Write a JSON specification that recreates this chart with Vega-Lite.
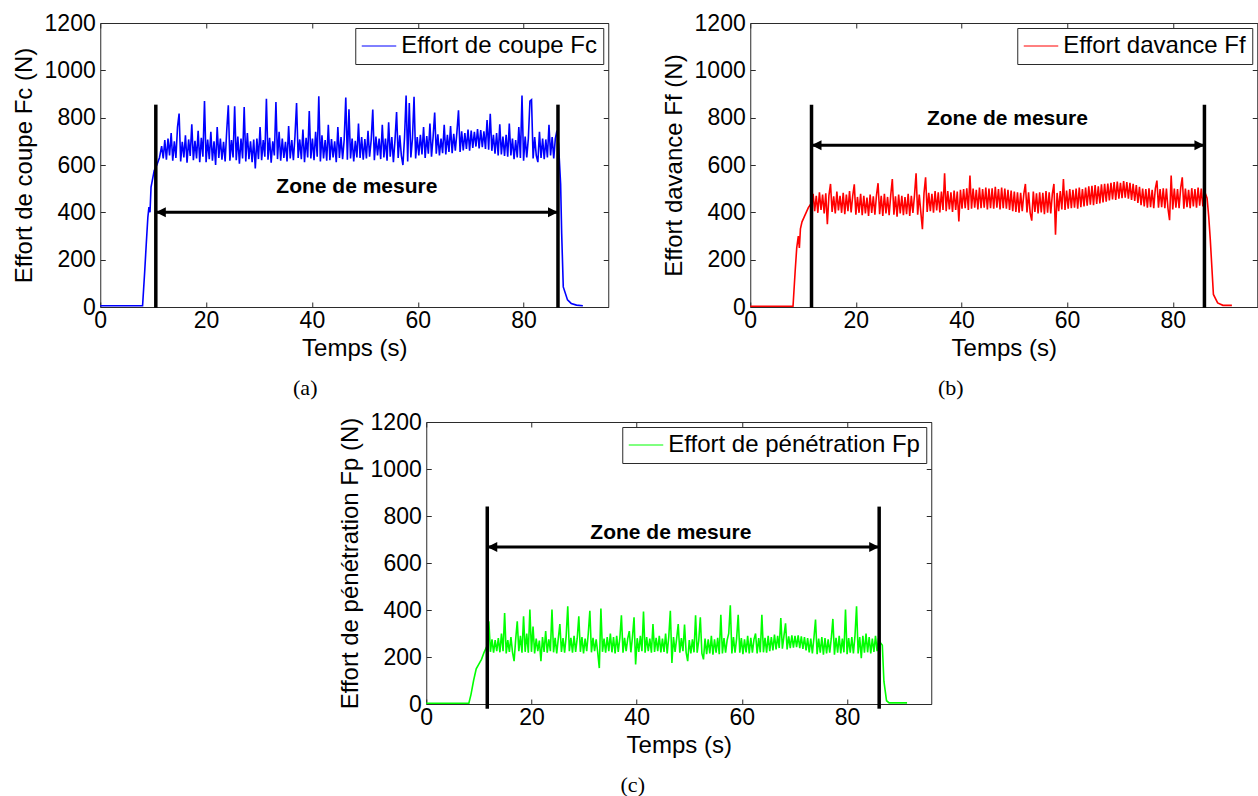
{
  "$schema": "https://vega.github.io/schema/vega-lite/v6.json",
  "background": "white",
  "padding": {"left": 12, "top": 12, "right": 0, "bottom": 0},
  "datasets": {
    "fc": [
      {"t":0,"v":5},{"t":8.0,"v":5},{"t":8.4,"v":150},{"t":8.7,"v":268},{"t":9.0,"v":380},{"t":9.2,"v":422},{"t":9.4,"v":400},{"t":9.6,"v":507},{"t":10.2,"v":577},{"t":10.7,"v":600},{"t":11.2,"v":632},
      {"t":11.6,"v":680},{"t":11.9,"v":628},{"t":12.2,"v":705},{"t":12.5,"v":622},{"t":12.8,"v":712},{"t":13.1,"v":640},{"t":13.4,"v":735},{"t":13.7,"v":618},{"t":14.0,"v":700},{"t":14.3,"v":630},{"t":14.6,"v":760},{"t":14.9,"v":817},{"t":15.2,"v":615},{"t":15.5,"v":698},{"t":15.8,"v":632},{"t":16.1,"v":725},{"t":16.4,"v":610},{"t":16.7,"v":708},{"t":17.0,"v":638},{"t":17.3,"v":772},{"t":17.6,"v":620},{"t":17.9,"v":702},{"t":18.2,"v":628},{"t":18.5,"v":745},{"t":18.8,"v":612},{"t":19.1,"v":715},{"t":19.4,"v":635},{"t":19.7,"v":870},{"t":20.0,"v":612},
      {"t":20.3,"v":708},{"t":20.6,"v":625},{"t":20.9,"v":740},{"t":21.2,"v":618},{"t":21.5,"v":700},{"t":21.8,"v":600},{"t":22.1,"v":760},{"t":22.4,"v":630},{"t":22.7,"v":712},{"t":23.0,"v":622},{"t":23.3,"v":698},{"t":23.6,"v":615},{"t":23.9,"v":745},{"t":24.2,"v":852},{"t":24.5,"v":618},{"t":24.8,"v":705},{"t":25.1,"v":632},{"t":25.4,"v":848},{"t":25.7,"v":620},{"t":26.0,"v":720},{"t":26.3,"v":605},{"t":26.6,"v":712},{"t":26.9,"v":628},{"t":27.2,"v":845},{"t":27.5,"v":615},{"t":27.8,"v":735},{"t":28.1,"v":625},{"t":28.4,"v":700},{"t":28.7,"v":612},{"t":29.0,"v":708},{"t":29.3,"v":585},{"t":29.6,"v":712},{"t":29.9,"v":625},
      {"t":30.2,"v":760},{"t":30.5,"v":620},{"t":30.8,"v":705},{"t":31.1,"v":635},{"t":31.4,"v":880},{"t":31.7,"v":622},{"t":32.0,"v":715},{"t":32.3,"v":610},{"t":32.6,"v":700},{"t":32.9,"v":640},{"t":33.2,"v":866},{"t":33.5,"v":625},{"t":33.8,"v":740},{"t":34.1,"v":618},{"t":34.4,"v":712},{"t":34.7,"v":630},{"t":35.0,"v":698},{"t":35.3,"v":615},{"t":35.6,"v":765},{"t":35.9,"v":628},{"t":36.2,"v":705},{"t":36.5,"v":620},{"t":36.8,"v":722},{"t":37.1,"v":862},{"t":37.4,"v":630},{"t":37.7,"v":708},{"t":38.0,"v":625},{"t":38.3,"v":750},{"t":38.6,"v":612},{"t":38.9,"v":715},{"t":39.2,"v":632},{"t":39.5,"v":828},{"t":39.8,"v":628},
      {"t":40.1,"v":712},{"t":40.4,"v":620},{"t":40.7,"v":740},{"t":41.0,"v":635},{"t":41.3,"v":890},{"t":41.6,"v":615},{"t":41.9,"v":725},{"t":42.2,"v":628},{"t":42.5,"v":705},{"t":42.8,"v":618},{"t":43.1,"v":770},{"t":43.4,"v":620},{"t":43.7,"v":710},{"t":44.0,"v":632},{"t":44.3,"v":700},{"t":44.6,"v":612},{"t":44.9,"v":760},{"t":45.2,"v":630},{"t":45.5,"v":718},{"t":45.8,"v":625},{"t":46.1,"v":708},{"t":46.4,"v":885},{"t":46.7,"v":622},{"t":47.0,"v":835},{"t":47.3,"v":628},{"t":47.6,"v":712},{"t":47.9,"v":615},{"t":48.2,"v":702},{"t":48.5,"v":632},{"t":48.8,"v":775},{"t":49.1,"v":630},{"t":49.4,"v":718},{"t":49.7,"v":622},
      {"t":50.0,"v":710},{"t":50.3,"v":628},{"t":50.6,"v":745},{"t":50.9,"v":635},{"t":51.2,"v":705},{"t":51.5,"v":834},{"t":51.8,"v":620},{"t":52.1,"v":720},{"t":52.4,"v":640},{"t":52.7,"v":712},{"t":53.0,"v":625},{"t":53.3,"v":770},{"t":53.6,"v":632},{"t":53.9,"v":712},{"t":54.2,"v":618},{"t":54.5,"v":780},{"t":54.8,"v":635},{"t":55.1,"v":718},{"t":55.4,"v":612},{"t":55.7,"v":705},{"t":56.0,"v":824},{"t":56.3,"v":630},{"t":56.6,"v":725},{"t":56.9,"v":640},{"t":57.2,"v":600},{"t":57.5,"v":715},{"t":57.8,"v":894},{"t":58.1,"v":615},{"t":58.4,"v":862},{"t":58.7,"v":632},{"t":59.0,"v":712},{"t":59.3,"v":888},{"t":59.6,"v":628},{"t":59.9,"v":718},
      {"t":60.2,"v":640},{"t":60.5,"v":728},{"t":60.8,"v":645},{"t":61.1,"v":760},{"t":61.4,"v":630},{"t":61.7,"v":722},{"t":62.0,"v":648},{"t":62.3,"v":775},{"t":62.6,"v":635},{"t":62.9,"v":718},{"t":63.2,"v":822},{"t":63.5,"v":648},{"t":63.8,"v":730},{"t":64.1,"v":640},{"t":64.4,"v":712},{"t":64.7,"v":650},{"t":65.0,"v":770},{"t":65.3,"v":645},{"t":65.6,"v":728},{"t":65.9,"v":655},
      {"t":66.2,"v":765},{"t":66.5,"v":650},{"t":66.8,"v":732},{"t":67.1,"v":660},{"t":67.4,"v":738},{"t":67.7,"v":831},{"t":68.0,"v":655},{"t":68.3,"v":742},{"t":68.6,"v":662},{"t":68.9,"v":735},{"t":69.2,"v":668},{"t":69.5,"v":750},{"t":69.8,"v":660},
      {"t":70.1,"v":745},{"t":70.4,"v":672},{"t":70.7,"v":740},{"t":71.0,"v":678},{"t":71.3,"v":752},{"t":71.6,"v":670},{"t":71.9,"v":748},{"t":72.2,"v":675},{"t":72.5,"v":742},{"t":72.8,"v":668},{"t":73.1,"v":790},{"t":73.4,"v":665},{"t":73.7,"v":816},{"t":74.0,"v":660},
      {"t":74.3,"v":728},{"t":74.6,"v":648},{"t":74.9,"v":735},{"t":75.2,"v":640},{"t":75.5,"v":772},{"t":75.8,"v":645},{"t":76.1,"v":720},{"t":76.4,"v":638},{"t":76.7,"v":728},
      {"t":77.0,"v":635},{"t":77.3,"v":775},{"t":77.6,"v":640},{"t":77.9,"v":712},{"t":78.2,"v":625},{"t":78.5,"v":705},{"t":78.8,"v":632},{"t":79.1,"v":760},{"t":79.4,"v":630},{"t":79.7,"v":894},{"t":80.0,"v":618},{"t":80.3,"v":720},{"t":80.6,"v":632},{"t":80.9,"v":712},{"t":81.2,"v":870},{"t":81.5,"v":876},{"t":81.8,"v":628},{"t":82.1,"v":718},{"t":82.4,"v":640},{"t":82.7,"v":612},{"t":83.0,"v":740},{"t":83.3,"v":630},{"t":83.6,"v":712},{"t":83.9,"v":625},{"t":84.2,"v":708},{"t":84.5,"v":632},{"t":84.8,"v":770},{"t":85.1,"v":640},{"t":85.4,"v":718},{"t":85.7,"v":628},{"t":86.0,"v":712},{"t":86.3,"v":745},
      {"t":86.6,"v":690},{"t":87.0,"v":520},{"t":87.2,"v":310},{"t":87.5,"v":85},{"t":88.3,"v":30},{"t":89.0,"v":15},{"t":90.0,"v":8},{"t":91.2,"v":5}
    ],
    "ff": [
      {"t":0,"v":3},{"t":8.1,"v":3},{"t":8.5,"v":150},{"t":8.8,"v":250},{"t":9.1,"v":300},{"t":9.3,"v":250},{"t":9.5,"v":330},{"t":9.8,"v":360},{"t":10.2,"v":380},{"t":10.6,"v":400},{"t":11.0,"v":420},
      {"t":11.6,"v":440},{"t":11.9,"v":478},{"t":12.2,"v":405},{"t":12.5,"v":470},{"t":12.8,"v":398},{"t":13.1,"v":485},{"t":13.4,"v":410},{"t":13.7,"v":475},{"t":14.0,"v":395},{"t":14.3,"v":480},{"t":14.6,"v":350},{"t":14.9,"v":472},{"t":15.2,"v":520},{"t":15.5,"v":402},{"t":15.8,"v":468},{"t":16.1,"v":395},{"t":16.4,"v":488},{"t":16.7,"v":408},{"t":17.0,"v":470},{"t":17.3,"v":398},{"t":17.6,"v":482},{"t":17.9,"v":392},{"t":18.2,"v":475},{"t":18.5,"v":405},{"t":18.8,"v":490},{"t":19.1,"v":400},{"t":19.4,"v":470},{"t":19.7,"v":518},{"t":20.0,"v":390},
      {"t":20.3,"v":465},{"t":20.6,"v":398},{"t":20.9,"v":478},{"t":21.2,"v":388},{"t":21.5,"v":470},{"t":21.8,"v":395},{"t":22.1,"v":462},{"t":22.4,"v":385},{"t":22.7,"v":475},{"t":23.0,"v":398},{"t":23.3,"v":468},{"t":23.6,"v":390},{"t":23.9,"v":472},{"t":24.2,"v":523},{"t":24.5,"v":392},{"t":24.8,"v":470},{"t":25.1,"v":385},{"t":25.4,"v":478},{"t":25.7,"v":395},{"t":26.0,"v":465},{"t":26.3,"v":388},{"t":26.6,"v":472},{"t":26.9,"v":541},{"t":27.2,"v":390},{"t":27.5,"v":468},{"t":27.8,"v":382},{"t":28.1,"v":475},{"t":28.4,"v":395},{"t":28.7,"v":470},{"t":29.0,"v":388},{"t":29.3,"v":465},{"t":29.6,"v":392},{"t":29.9,"v":478},
      {"t":30.2,"v":385},{"t":30.5,"v":470},{"t":30.8,"v":398},{"t":31.1,"v":472},{"t":31.4,"v":565},{"t":31.7,"v":390},{"t":32.0,"v":475},{"t":32.3,"v":400},{"t":32.6,"v":329},{"t":32.9,"v":480},{"t":33.2,"v":548},{"t":33.5,"v":402},{"t":33.8,"v":482},{"t":34.1,"v":405},{"t":34.4,"v":478},{"t":34.7,"v":398},{"t":35.0,"v":490},{"t":35.3,"v":408},{"t":35.6,"v":485},{"t":35.9,"v":400},{"t":36.2,"v":488},{"t":36.5,"v":410},{"t":36.8,"v":565},{"t":37.1,"v":405},{"t":37.4,"v":490},{"t":37.7,"v":412},{"t":38.0,"v":485},{"t":38.3,"v":402},{"t":38.6,"v":492},{"t":38.9,"v":410},{"t":39.2,"v":488},{"t":39.5,"v":361},{"t":39.8,"v":495},
      {"t":40.1,"v":415},{"t":40.4,"v":498},{"t":40.7,"v":418},{"t":41.0,"v":502},{"t":41.3,"v":410},{"t":41.6,"v":555},{"t":41.9,"v":415},{"t":42.2,"v":500},{"t":42.5,"v":420},{"t":42.8,"v":495},{"t":43.1,"v":412},{"t":43.4,"v":505},{"t":43.7,"v":418},{"t":44.0,"v":498},{"t":44.3,"v":420},{"t":44.6,"v":505},{"t":44.9,"v":412},{"t":45.2,"v":500},{"t":45.5,"v":418},{"t":45.8,"v":502},{"t":46.1,"v":415},{"t":46.4,"v":508},{"t":46.7,"v":420},{"t":47.0,"v":498},{"t":47.3,"v":412},{"t":47.6,"v":505},{"t":47.9,"v":418},{"t":48.2,"v":500},{"t":48.5,"v":415},{"t":48.8,"v":495},{"t":49.1,"v":410},{"t":49.4,"v":492},{"t":49.7,"v":405},
      {"t":50.0,"v":488},{"t":50.3,"v":402},{"t":50.6,"v":485},{"t":50.9,"v":398},{"t":51.2,"v":482},{"t":51.5,"v":405},{"t":51.8,"v":478},{"t":52.1,"v":520},{"t":52.4,"v":400},{"t":52.7,"v":485},{"t":53.0,"v":398},{"t":53.3,"v":365},{"t":53.6,"v":488},{"t":53.9,"v":402},{"t":54.2,"v":480},{"t":54.5,"v":395},{"t":54.8,"v":485},{"t":55.1,"v":400},{"t":55.4,"v":482},{"t":55.7,"v":392},{"t":56.0,"v":490},{"t":56.3,"v":398},{"t":56.6,"v":485},{"t":56.9,"v":395},{"t":57.2,"v":478},{"t":57.5,"v":520},{"t":57.8,"v":305},{"t":58.1,"v":482},{"t":58.4,"v":405},{"t":58.7,"v":490},{"t":59.0,"v":412},{"t":59.3,"v":541},{"t":59.6,"v":410},{"t":59.9,"v":492},
      {"t":60.2,"v":415},{"t":60.5,"v":498},{"t":60.8,"v":418},{"t":61.1,"v":495},{"t":61.4,"v":420},{"t":61.7,"v":500},{"t":62.0,"v":415},{"t":62.3,"v":505},{"t":62.6,"v":422},{"t":62.9,"v":498},{"t":63.2,"v":425},{"t":63.5,"v":505},{"t":63.8,"v":428},{"t":64.1,"v":510},{"t":64.4,"v":432},{"t":64.7,"v":512},{"t":65.0,"v":430},{"t":65.3,"v":515},{"t":65.6,"v":435},{"t":65.9,"v":510},{"t":66.2,"v":438},{"t":66.5,"v":518},{"t":66.8,"v":442},{"t":67.1,"v":520},{"t":67.4,"v":445},{"t":67.7,"v":522},{"t":68.0,"v":450},{"t":68.3,"v":525},{"t":68.6,"v":455},{"t":68.9,"v":528},{"t":69.2,"v":452},{"t":69.5,"v":530},{"t":69.8,"v":458},
      {"t":70.1,"v":525},{"t":70.4,"v":460},{"t":70.7,"v":532},{"t":71.0,"v":462},{"t":71.3,"v":528},{"t":71.6,"v":458},{"t":71.9,"v":525},{"t":72.2,"v":452},{"t":72.5,"v":520},{"t":72.8,"v":448},{"t":73.1,"v":515},{"t":73.4,"v":440},{"t":73.7,"v":508},{"t":74.0,"v":430},{"t":74.3,"v":500},{"t":74.6,"v":425},{"t":74.9,"v":498},{"t":75.2,"v":420},{"t":75.5,"v":502},{"t":75.8,"v":422},{"t":76.1,"v":495},{"t":76.4,"v":418},{"t":76.7,"v":500},{"t":77.0,"v":534},{"t":77.3,"v":420},{"t":77.6,"v":498},{"t":77.9,"v":422},{"t":78.2,"v":502},{"t":78.5,"v":418},{"t":78.8,"v":500},{"t":79.1,"v":415},{"t":79.4,"v":367},{"t":79.7,"v":555},
      {"t":80.0,"v":412},{"t":80.3,"v":500},{"t":80.6,"v":420},{"t":80.9,"v":498},{"t":81.2,"v":418},{"t":81.5,"v":502},{"t":81.8,"v":548},{"t":82.1,"v":415},{"t":82.4,"v":500},{"t":82.7,"v":422},{"t":83.0,"v":495},{"t":83.3,"v":418},{"t":83.6,"v":502},{"t":83.9,"v":425},{"t":84.2,"v":498},{"t":84.5,"v":420},{"t":84.8,"v":505},{"t":85.1,"v":428},{"t":85.4,"v":500},{"t":85.7,"v":425},{"t":86.0,"v":490},
      {"t":86.5,"v":460},{"t":86.8,"v":385},{"t":87.1,"v":288},{"t":87.7,"v":53},{"t":88.5,"v":17},{"t":89.5,"v":7},{"t":91.2,"v":7}
    ],
    "fp": [
      {"t":0,"v":3},{"t":8.1,"v":3},{"t":8.5,"v":40},{"t":9.0,"v":100},{"t":9.5,"v":150},{"t":10.0,"v":170},{"t":10.5,"v":190},{"t":11.0,"v":220},
      {"t":11.6,"v":250},{"t":11.9,"v":352},{"t":12.2,"v":222},{"t":12.5,"v":275},{"t":12.8,"v":218},{"t":13.1,"v":272},{"t":13.4,"v":225},{"t":13.7,"v":280},{"t":14.0,"v":220},{"t":14.3,"v":300},{"t":14.6,"v":225},{"t":14.9,"v":387},{"t":15.2,"v":215},{"t":15.5,"v":272},{"t":15.8,"v":222},{"t":16.1,"v":285},{"t":16.4,"v":220},{"t":16.7,"v":182},{"t":17.0,"v":275},{"t":17.3,"v":352},{"t":17.6,"v":225},{"t":17.9,"v":290},{"t":18.2,"v":218},{"t":18.5,"v":373},{"t":18.8,"v":222},{"t":19.1,"v":300},{"t":19.4,"v":218},{"t":19.7,"v":402},{"t":20.0,"v":222},
      {"t":20.3,"v":330},{"t":20.6,"v":215},{"t":20.9,"v":278},{"t":21.2,"v":225},{"t":21.5,"v":270},{"t":21.8,"v":182},{"t":22.1,"v":285},{"t":22.4,"v":222},{"t":22.7,"v":310},{"t":23.0,"v":218},{"t":23.3,"v":275},{"t":23.6,"v":225},{"t":23.9,"v":402},{"t":24.2,"v":220},{"t":24.5,"v":282},{"t":24.8,"v":215},{"t":25.1,"v":278},{"t":25.4,"v":340},{"t":25.7,"v":222},{"t":26.0,"v":280},{"t":26.3,"v":218},{"t":26.6,"v":290},{"t":26.9,"v":416},{"t":27.2,"v":225},{"t":27.5,"v":282},{"t":27.8,"v":218},{"t":28.1,"v":290},{"t":28.4,"v":222},{"t":28.7,"v":280},{"t":29.0,"v":373},{"t":29.3,"v":222},{"t":29.6,"v":285},{"t":29.9,"v":215},
      {"t":30.2,"v":278},{"t":30.5,"v":225},{"t":30.8,"v":300},{"t":31.1,"v":397},{"t":31.4,"v":220},{"t":31.7,"v":282},{"t":32.0,"v":225},{"t":32.3,"v":275},{"t":32.6,"v":218},{"t":32.9,"v":153},{"t":33.2,"v":406},{"t":33.5,"v":222},{"t":33.8,"v":278},{"t":34.1,"v":218},{"t":34.4,"v":285},{"t":34.7,"v":225},{"t":35.0,"v":300},{"t":35.3,"v":220},{"t":35.6,"v":285},{"t":35.9,"v":215},{"t":36.2,"v":290},{"t":36.5,"v":222},{"t":36.8,"v":280},{"t":37.1,"v":377},{"t":37.4,"v":218},{"t":37.7,"v":282},{"t":38.0,"v":225},{"t":38.3,"v":278},{"t":38.6,"v":310},{"t":38.9,"v":220},{"t":39.2,"v":285},{"t":39.5,"v":369},{"t":39.8,"v":168},
      {"t":40.1,"v":280},{"t":40.4,"v":222},{"t":40.7,"v":290},{"t":41.0,"v":225},{"t":41.3,"v":394},{"t":41.6,"v":218},{"t":41.9,"v":285},{"t":42.2,"v":225},{"t":42.5,"v":278},{"t":42.8,"v":218},{"t":43.1,"v":340},{"t":43.4,"v":222},{"t":43.7,"v":282},{"t":44.0,"v":225},{"t":44.3,"v":290},{"t":44.6,"v":220},{"t":44.9,"v":278},{"t":45.2,"v":222},{"t":45.5,"v":300},{"t":45.8,"v":215},{"t":46.1,"v":285},{"t":46.4,"v":397},{"t":46.7,"v":175},{"t":47.0,"v":285},{"t":47.3,"v":222},{"t":47.6,"v":278},{"t":47.9,"v":340},{"t":48.2,"v":218},{"t":48.5,"v":280},{"t":48.8,"v":225},{"t":49.1,"v":338},{"t":49.4,"v":220},{"t":49.7,"v":182},
      {"t":50.0,"v":272},{"t":50.3,"v":215},{"t":50.6,"v":275},{"t":50.9,"v":220},{"t":51.2,"v":377},{"t":51.5,"v":218},{"t":51.8,"v":270},{"t":52.1,"v":369},{"t":52.4,"v":215},{"t":52.7,"v":190},{"t":53.0,"v":278},{"t":53.3,"v":212},{"t":53.6,"v":275},{"t":53.9,"v":215},{"t":54.2,"v":290},{"t":54.5,"v":210},{"t":54.8,"v":275},{"t":55.1,"v":218},{"t":55.4,"v":282},{"t":55.7,"v":212},{"t":56.0,"v":380},{"t":56.3,"v":215},{"t":56.6,"v":280},{"t":56.9,"v":218},{"t":57.2,"v":272},{"t":57.5,"v":300},{"t":57.8,"v":420},{"t":58.1,"v":215},{"t":58.4,"v":285},{"t":58.7,"v":218},{"t":59.0,"v":278},{"t":59.3,"v":380},{"t":59.6,"v":218},{"t":59.9,"v":280},
      {"t":60.2,"v":212},{"t":60.5,"v":275},{"t":60.8,"v":220},{"t":61.1,"v":290},{"t":61.4,"v":215},{"t":61.7,"v":282},{"t":62.0,"v":218},{"t":62.3,"v":275},{"t":62.6,"v":300},{"t":62.9,"v":215},{"t":63.2,"v":280},{"t":63.5,"v":220},{"t":63.8,"v":380},{"t":64.1,"v":220},{"t":64.4,"v":282},{"t":64.7,"v":218},{"t":65.0,"v":290},{"t":65.3,"v":225},{"t":65.6,"v":285},{"t":65.9,"v":228},{"t":66.2,"v":295},{"t":66.5,"v":232},{"t":66.8,"v":290},{"t":67.1,"v":238},{"t":67.4,"v":366},{"t":67.7,"v":235},{"t":68.0,"v":290},{"t":68.3,"v":343},{"t":68.6,"v":232},{"t":68.9,"v":288},{"t":69.2,"v":238},{"t":69.5,"v":292},{"t":69.8,"v":240},
      {"t":70.1,"v":290},{"t":70.4,"v":242},{"t":70.7,"v":292},{"t":71.0,"v":238},{"t":71.3,"v":288},{"t":71.6,"v":235},{"t":71.9,"v":285},{"t":72.2,"v":228},{"t":72.5,"v":280},{"t":72.8,"v":220},{"t":73.1,"v":278},{"t":73.4,"v":215},{"t":73.7,"v":282},{"t":74.0,"v":359},{"t":74.3,"v":212},{"t":74.6,"v":278},{"t":74.9,"v":218},{"t":75.2,"v":285},{"t":75.5,"v":210},{"t":75.8,"v":280},{"t":76.1,"v":215},{"t":76.4,"v":275},{"t":76.7,"v":218},{"t":77.0,"v":280},{"t":77.3,"v":362},{"t":77.6,"v":210},{"t":77.9,"v":282},{"t":78.2,"v":218},{"t":78.5,"v":290},{"t":78.8,"v":215},{"t":79.1,"v":278},{"t":79.4,"v":220},{"t":79.7,"v":402},
      {"t":80.0,"v":212},{"t":80.3,"v":280},{"t":80.6,"v":218},{"t":80.9,"v":285},{"t":81.2,"v":215},{"t":81.5,"v":290},{"t":81.8,"v":416},{"t":82.1,"v":215},{"t":82.4,"v":285},{"t":82.7,"v":195},{"t":83.0,"v":290},{"t":83.3,"v":218},{"t":83.6,"v":300},{"t":83.9,"v":220},{"t":84.2,"v":285},{"t":84.5,"v":215},{"t":84.8,"v":278},{"t":85.1,"v":222},{"t":85.4,"v":290},{"t":85.7,"v":225},{"t":86.0,"v":280},
      {"t":86.3,"v":262},{"t":86.7,"v":250},{"t":87.0,"v":97},{"t":87.5,"v":14},{"t":88.0,"v":5},{"t":91.4,"v":5}
    ]
  },
  "resolve": {"scale": {"color": "independent", "shape": "independent"}, "legend": {"color": "independent"}},
  "vconcat": [
    {
      "resolve": {"scale": {"color": "independent", "shape": "independent"}, "legend": {"color": "independent"}},
      "hconcat": [
        {
          "width": 508, "height": 284,
          "title": {"text": "(a)", "orient": "bottom", "dx": -49, "offset": 18},
          "resolve": {"axis": {"x": "independent", "y": "independent"}},
          "layer": [
            {
              "data": {"name": "fc"},
              "mark": {"type": "line", "strokeWidth": 1.6},
              "encoding": {
                "x": {"field": "t", "type": "quantitative", "scale": {"domain": [0, 96], "nice": false, "zero": false}, "axis": {"title": "Temps (s)", "values": [0, 20, 40, 60, 80], "titlePadding": 4, "labelPadding": 7}},
                "y": {"field": "v", "type": "quantitative", "scale": {"domain": [0, 1200], "nice": false}, "axis": {"title": "Effort de coupe Fc (N)", "values": [0, 200, 400, 600, 800, 1000, 1200], "titlePadding": 8}},
                "color": {"datum": "Effort de coupe Fc", "scale": {"range": ["#0000ff"]}, "legend": {"orient": "top-right", "offset": 5}}
              }
            },
            {
              "data": {"values": [{"t": 10.5, "y0": -3, "y1": 855}, {"t": 86.5, "y0": -3, "y1": 855}]},
              "mark": {"type": "rule", "strokeWidth": 3.5, "color": "black"},
              "encoding": {
                "x": {"field": "t", "type": "quantitative", "axis": {"orient": "top", "labels": false, "title": null, "values": [0, 20, 40, 60, 80]}},
                "y": {"field": "y0", "type": "quantitative", "axis": {"orient": "right", "labels": false, "title": null, "values": [0, 200, 400, 600, 800, 1000, 1200]}},
                "y2": {"field": "y1"}
              }
            },
            {
              "data": {"values": [{"a": 10.5, "b": 86.5, "y": 400}]},
              "mark": {"type": "rule", "strokeWidth": 3, "color": "black"},
              "encoding": {
                "x": {"field": "a", "type": "quantitative", "axis": null},
                "x2": {"field": "b"},
                "y": {"field": "y", "type": "quantitative", "axis": null}
              }
            },
            {
              "data": {"values": [{"t": 10.5, "y": 400, "d": "L"}, {"t": 86.5, "y": 400, "d": "R"}]},
              "mark": {"type": "point", "filled": true, "color": "black", "opacity": 1, "size": 100},
              "encoding": {
                "x": {"field": "t", "type": "quantitative", "axis": null},
                "y": {"field": "y", "type": "quantitative", "axis": null},
                "shape": {"field": "d", "type": "nominal", "scale": {"domain": ["L", "R"], "range": ["M0,0L2,-1L2,1Z", "M0,0L-2,-1L-2,1Z"]}, "legend": null}
              }
            },
            {
              "data": {"values": [{"t": 48.5, "y": 507, "label": "Zone de mesure"}]},
              "mark": {"type": "text", "fontSize": 21, "fontWeight": "bold", "font": "Liberation Sans", "color": "black", "align": "center", "baseline": "middle"},
              "encoding": {
                "x": {"field": "t", "type": "quantitative", "axis": null},
                "y": {"field": "y", "type": "quantitative", "axis": null},
                "text": {"field": "label"}
              }
            }
          ]
        },
        {
          "width": 507, "height": 284,
          "title": {"text": "(b)", "orient": "bottom", "dx": -53, "offset": 18},
          "resolve": {"axis": {"x": "independent", "y": "independent"}},
          "layer": [
            {
              "data": {"name": "ff"},
              "mark": {"type": "line", "strokeWidth": 1.6},
              "encoding": {
                "x": {"field": "t", "type": "quantitative", "scale": {"domain": [0, 96], "nice": false, "zero": false}, "axis": {"title": "Temps (s)", "values": [0, 20, 40, 60, 80], "titlePadding": 4, "labelPadding": 7}},
                "y": {"field": "v", "type": "quantitative", "scale": {"domain": [0, 1200], "nice": false}, "axis": {"title": "Effort davance Ff (N)", "values": [0, 200, 400, 600, 800, 1000, 1200], "titlePadding": 8}},
                "color": {"datum": "Effort davance Ff", "scale": {"range": ["#ff0000"]}, "legend": {"orient": "top-right", "offset": 5}}
              }
            },
            {
              "data": {"values": [{"t": 11.6, "y0": -3, "y1": 855}, {"t": 86.0, "y0": -3, "y1": 855}]},
              "mark": {"type": "rule", "strokeWidth": 3.5, "color": "black"},
              "encoding": {
                "x": {"field": "t", "type": "quantitative", "axis": {"orient": "top", "labels": false, "title": null, "values": [0, 20, 40, 60, 80]}},
                "y": {"field": "y0", "type": "quantitative", "axis": {"orient": "right", "labels": false, "title": null, "values": [0, 200, 400, 600, 800, 1000, 1200]}},
                "y2": {"field": "y1"}
              }
            },
            {
              "data": {"values": [{"a": 11.6, "b": 86.0, "y": 683}]},
              "mark": {"type": "rule", "strokeWidth": 3, "color": "black"},
              "encoding": {
                "x": {"field": "a", "type": "quantitative", "axis": null},
                "x2": {"field": "b"},
                "y": {"field": "y", "type": "quantitative", "axis": null}
              }
            },
            {
              "data": {"values": [{"t": 11.6, "y": 683, "d": "L"}, {"t": 86.0, "y": 683, "d": "R"}]},
              "mark": {"type": "point", "filled": true, "color": "black", "opacity": 1, "size": 100},
              "encoding": {
                "x": {"field": "t", "type": "quantitative", "axis": null},
                "y": {"field": "y", "type": "quantitative", "axis": null},
                "shape": {"field": "d", "type": "nominal", "scale": {"domain": ["L", "R"], "range": ["M0,0L2,-1L2,1Z", "M0,0L-2,-1L-2,1Z"]}, "legend": null}
              }
            },
            {
              "data": {"values": [{"t": 48.7, "y": 796, "label": "Zone de mesure"}]},
              "mark": {"type": "text", "fontSize": 21, "fontWeight": "bold", "font": "Liberation Sans", "color": "black", "align": "center", "baseline": "middle"},
              "encoding": {
                "x": {"field": "t", "type": "quantitative", "axis": null},
                "y": {"field": "y", "type": "quantitative", "axis": null},
                "text": {"field": "label"}
              }
            }
          ]
        }
      ]
    },
    {
      "width": 505, "height": 282,
      "title": {"text": "(c)", "orient": "bottom", "dx": -46, "offset": 18},
      "resolve": {"axis": {"x": "independent", "y": "independent"}},
      "layer": [
        {
          "data": {"name": "fp"},
          "mark": {"type": "line", "strokeWidth": 1.6},
          "encoding": {
            "x": {"field": "t", "type": "quantitative", "scale": {"domain": [0, 96], "nice": false, "zero": false}, "axis": {"title": "Temps (s)", "values": [0, 20, 40, 60, 80], "titlePadding": 4, "labelPadding": 7}},
            "y": {"field": "v", "type": "quantitative", "scale": {"domain": [0, 1200], "nice": false}, "axis": {"title": "Effort de pénétration Fp (N)", "values": [0, 200, 400, 600, 800, 1000, 1200], "titlePadding": 8}},
            "color": {"datum": "Effort de pénétration Fp", "scale": {"range": ["#00ff00"]}, "legend": {"orient": "top-right", "offset": 5}}
          }
        },
        {
          "data": {"values": [{"t": 11.6, "y0": -20, "y1": 840}, {"t": 86.1, "y0": -20, "y1": 840}]},
          "mark": {"type": "rule", "strokeWidth": 3.5, "color": "black"},
          "encoding": {
            "x": {"field": "t", "type": "quantitative", "axis": {"orient": "top", "labels": false, "title": null, "values": [0, 20, 40, 60, 80]}},
            "y": {"field": "y0", "type": "quantitative", "axis": {"orient": "right", "labels": false, "title": null, "values": [0, 200, 400, 600, 800, 1000, 1200]}},
            "y2": {"field": "y1"}
          }
        },
        {
          "data": {"values": [{"a": 11.6, "b": 86.1, "y": 668}]},
          "mark": {"type": "rule", "strokeWidth": 3, "color": "black"},
          "encoding": {
            "x": {"field": "a", "type": "quantitative", "axis": null},
            "x2": {"field": "b"},
            "y": {"field": "y", "type": "quantitative", "axis": null}
          }
        },
        {
          "data": {"values": [{"t": 11.6, "y": 668, "d": "L"}, {"t": 86.1, "y": 668, "d": "R"}]},
          "mark": {"type": "point", "filled": true, "color": "black", "opacity": 1, "size": 100},
          "encoding": {
            "x": {"field": "t", "type": "quantitative", "axis": null},
            "y": {"field": "y", "type": "quantitative", "axis": null},
            "shape": {"field": "d", "type": "nominal", "scale": {"domain": ["L", "R"], "range": ["M0,0L2,-1L2,1Z", "M0,0L-2,-1L-2,1Z"]}, "legend": null}
          }
        },
        {
          "data": {"values": [{"t": 46.5, "y": 727, "label": "Zone de mesure"}]},
          "mark": {"type": "text", "fontSize": 21, "fontWeight": "bold", "font": "Liberation Sans", "color": "black", "align": "center", "baseline": "middle"},
          "encoding": {
            "x": {"field": "t", "type": "quantitative", "axis": null},
            "y": {"field": "y", "type": "quantitative", "axis": null},
            "text": {"field": "label"}
          }
        }
      ]
    }
  ],
  "center": true,
  "spacing": 12,
  "config": {
    "font": "Liberation Sans",
    "view": {"stroke": null},
    "concat": {"spacing": 52},
    "axis": {
      "grid": false,
      "domainColor": "#2b2b2b",
      "tickColor": "#2b2b2b",
      "tickSize": -5,
      "labelFontSize": 23,
      "titleFontSize": 24,
      "titleFontWeight": "normal",
      "labelColor": "black",
      "titleColor": "black",
      "labelFont": "Liberation Sans",
      "titleFont": "Liberation Sans",
      "labelFlush": false,
      "labelOverlap": false,
      "labelPadding": 10,
      "format": "d"
    },
    "legend": {
      "title": null,
      "symbolType": "M-1,0L2,0",
      "symbolSize": 529,
      "symbolStrokeWidth": 1,
      "labelFontSize": 24,
      "labelFont": "Liberation Sans",
      "labelColor": "black",
      "labelOffset": 16,
      "labelLimit": 0,
      "padding": 6,
      "strokeColor": "#2b2b2b",
      "fillColor": "white",
      "cornerRadius": 0
    },
    "title": {"font": "Liberation Serif", "fontSize": 22, "fontWeight": "normal", "color": "black"}
  }
}
